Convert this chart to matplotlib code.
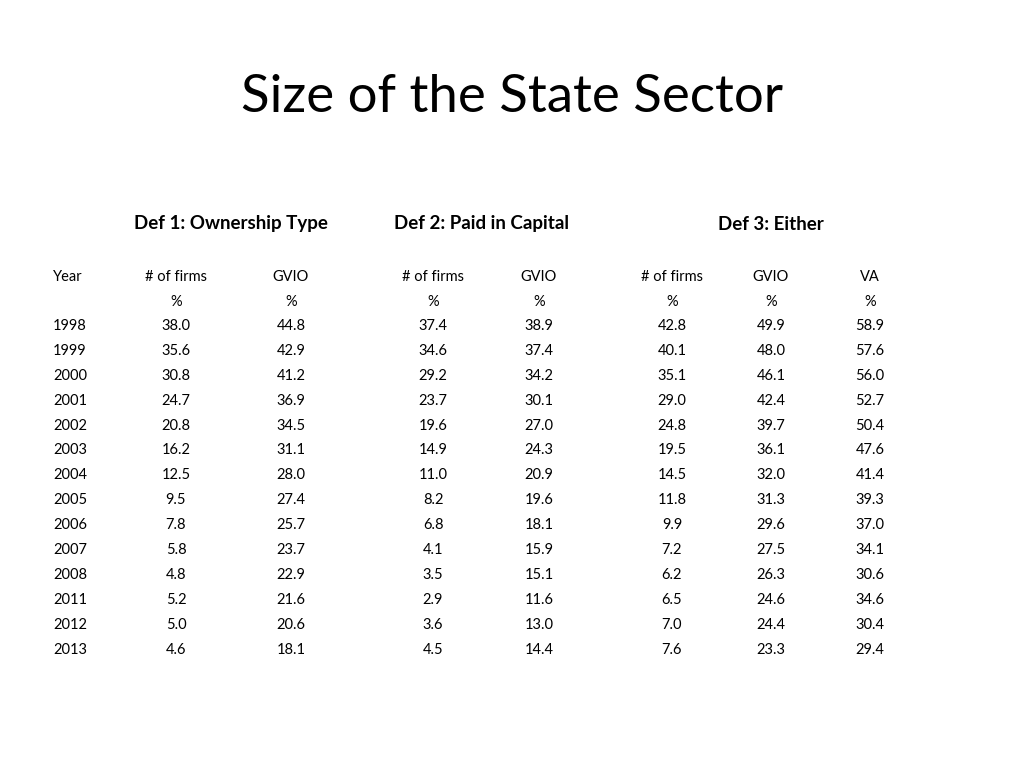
import matplotlib
matplotlib.use("Agg")
import matplotlib.pyplot as plt

title = "Size of the State Sector"
groups = ["Def 1: Ownership Type", "Def 2: Paid in Capital", "Def 3: Either"]
col_headers = ["# of firms", "GVIO", "# of firms", "GVIO", "# of firms", "GVIO", "VA"]
years = [1998, 1999, 2000, 2001, 2002, 2003, 2004, 2005, 2006, 2007, 2008, 2011, 2012, 2013]
d1_firms = [38.0, 35.6, 30.8, 24.7, 20.8, 16.2, 12.5, 9.5, 7.8, 5.8, 4.8, 5.2, 5.0, 4.6]
d1_gvio = [44.8, 42.9, 41.2, 36.9, 34.5, 31.1, 28.0, 27.4, 25.7, 23.7, 22.9, 21.6, 20.6, 18.1]
d2_firms = [37.4, 34.6, 29.2, 23.7, 19.6, 14.9, 11.0, 8.2, 6.8, 4.1, 3.5, 2.9, 3.6, 4.5]
d2_gvio = [38.9, 37.4, 34.2, 30.1, 27.0, 24.3, 20.9, 19.6, 18.1, 15.9, 15.1, 11.6, 13.0, 14.4]
d3_firms = [42.8, 40.1, 35.1, 29.0, 24.8, 19.5, 14.5, 11.8, 9.9, 7.2, 6.2, 6.5, 7.0, 7.6]
d3_gvio = [49.9, 48.0, 46.1, 42.4, 39.7, 36.1, 32.0, 31.3, 29.6, 27.5, 26.3, 24.6, 24.4, 23.3]
d3_va = [58.9, 57.6, 56.0, 52.7, 50.4, 47.6, 41.4, 39.3, 37.0, 34.1, 30.6, 34.6, 30.4, 29.4]

W, H = 1024, 768
fig = plt.figure(figsize=(W/100, H/100), dpi=100)
plt.rcParams["font.family"] = "Lato"

def t(x, y, s, **kw):
    fig.text(x / W, 1 - y / H, s, va="center", **kw)

t(512, 98, title, ha="center", fontsize=38)
for x, g in zip([231, 482, 771], groups):
    t(x, 224, g, ha="center", fontsize=13.5, fontweight="bold")

xs = [176, 291, 433, 539, 672, 771, 870]
t(53, 277, "Year", ha="left", fontsize=10.5)
for x, h in zip(xs, col_headers):
    t(x, 277, h, ha="center", fontsize=10.5)
    t(x, 302, "%", ha="center", fontsize=10.5)

cols = [d1_firms, d1_gvio, d2_firms, d2_gvio, d3_firms, d3_gvio, d3_va]
for i, yr in enumerate(years):
    y = 326 + i * 24.9
    t(53, y, str(yr), ha="left", fontsize=10.5)
    for x, c in zip(xs, cols):
        t(x, y, f"{c[i]:.1f}", ha="center", fontsize=10.5)

fig.savefig("out.png", dpi=100)
